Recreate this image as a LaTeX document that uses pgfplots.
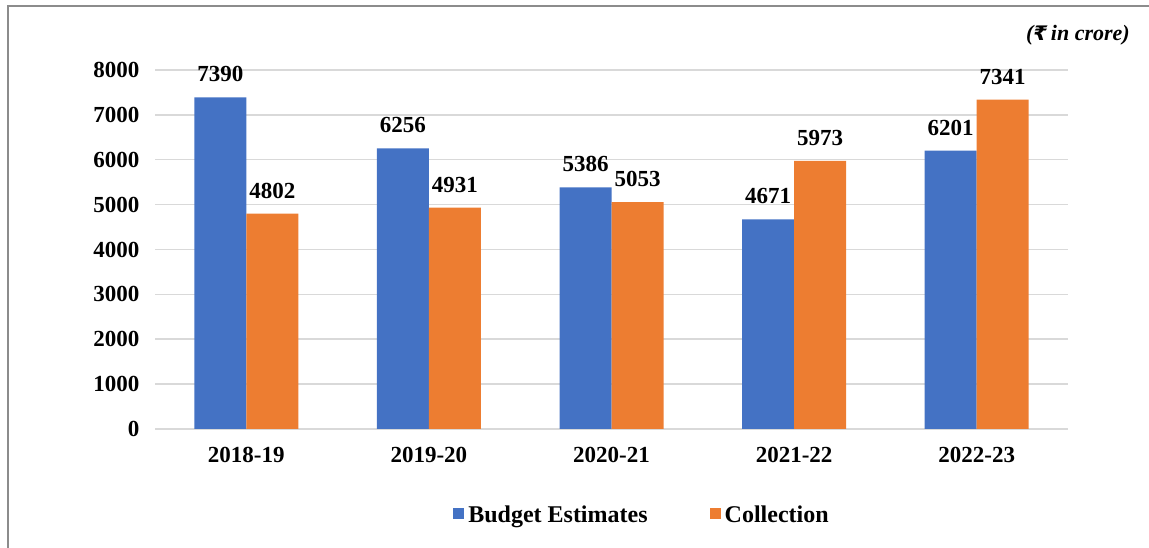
\documentclass[border=0pt]{standalone}
\usepackage{fontspec}
\setmainfont{Liberation Serif}
\newfontfamily\symfont{DejaVu Sans}
\usepackage{pgfplots}
\pgfplotsset{compat=1.18}
\definecolor{barblue}{HTML}{4472C4}
\definecolor{barorange}{HTML}{ED7D31}
\definecolor{gridgray}{HTML}{D9D9D9}
\definecolor{framegray}{HTML}{8C8C8C}
\newcommand{\chartfont}{\fontsize{23}{27}\selectfont\bfseries}

\begin{document}
\begin{tikzpicture}[x=1pt,y=1pt]
\path[use as bounding box] (0,0) rectangle (1149,548);
% outer frame (cropped)
\draw[framegray, line width=2pt] (8,0) -- (8,542) -- (1149,542);
\node[anchor=east, inner sep=0pt, font=\fontsize{22}{26}\selectfont\bfseries\itshape] at (1130,513) {({\symfont\fontsize{20}{24}\selectfont\bfseries\itshape ₹}\,in crore)};

\begin{axis}[
    at={(155pt,119pt)}, anchor=south west,
    scale only axis, width=913pt, height=359pt,
    ybar=0pt, bar width=52pt,
    xmin=-0.5, xmax=4.5, ymin=0, ymax=8000,
    xtick={0,1,2,3,4},
    xticklabels={2018-19,2019-20,2020-21,2021-22,2022-23},
    ytick={0,1000,...,8000},
    axis line style={draw=none},
    major tick length=0pt,
    ymajorgrids, grid style={gridgray, line width=1.5pt},
    tick label style={font=\chartfont},
    /pgf/number format/assume math mode=true,
    /pgf/number format/1000 sep={},
    yticklabel style={xshift=-12pt},
    xticklabel style={yshift=-15pt},
    nodes near coords,
    every node near coord/.append style={font=\chartfont, inner sep=0pt, yshift=15pt},
    legend style={at={(0.5345,-0.24)}, anchor=center, draw=none, fill=none,
        legend columns=2, font=\fontsize{24}{28}\selectfont\bfseries,
        nodes={inner sep=4pt},
        /tikz/every even column/.append style={column sep=58pt}},
    legend image code/.code={\fill[#1] (0pt,-4pt) rectangle (11pt,7pt);},
]
\addplot[fill=barblue, draw=none] coordinates {
    (0,7390) (1,6256) (2,5386) (3,4671) (4,6201)
};
\addlegendentry{Budget Estimates}
\addplot[fill=barorange, draw=none] coordinates {
    (0,4802) (1,4931) (2,5053) (3,5973) (4,7341)
};
\addlegendentry{Collection}
\end{axis}
\end{tikzpicture}
\end{document}
